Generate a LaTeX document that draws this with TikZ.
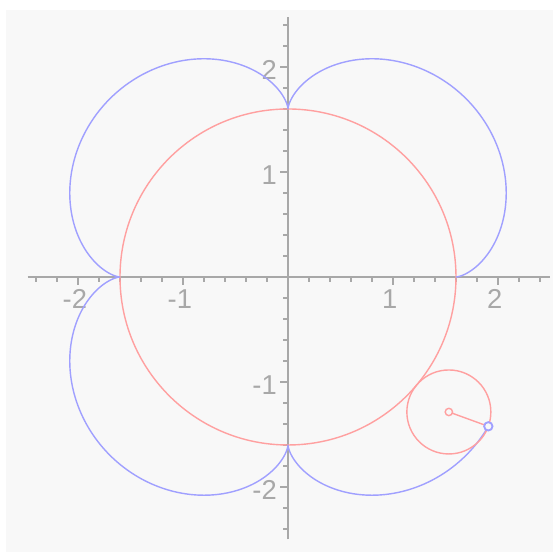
\documentclass[tikz,border=0pt]{standalone}
\usepackage{fontspec}
\setsansfont{Liberation Sans}
\definecolor{curvec}{HTML}{A0A0FF}
\definecolor{circc}{HTML}{FFA0A0}
\definecolor{axisc}{HTML}{A8A8A8}
\definecolor{bgc}{HTML}{F8F8F8}

\begin{document}
\begin{tikzpicture}[font=\sffamily\fontsize{7.4}{8}\selectfont,
      axis/.style={draw=axisc, line width=0.55pt},
      minortick/.style={draw=axisc, line width=0.4pt},
      lab/.style={text=axisc, inner sep=0pt},
      roll/.style={draw=circc, line width=0.38pt},
      trace/.style={draw=curvec, line width=0.38pt}]
    \useasboundingbox (-2.743,-2.619) rectangle (2.524,2.638);
    \fill[bgc] (-2.686,-2.619) rectangle (2.524,2.543);
    % axes
    \draw[axis] (-2.48,0) -- (2.5,0);
    \draw[axis] (0,-2.5) -- (0,2.48);
    \foreach \t in {-2.4,-2.2,...,2.45} {
      \draw[minortick] (\t,0) -- (\t,-0.045);
      \draw[minortick] (0,\t) -- (-0.045,\t);
    }
    \foreach \v in {-2,-1,1,2} {
      \draw[minortick] (\v,0) -- (\v,-0.075);
      \draw[minortick] (0,\v) -- (-0.075,\v);
      \node[lab] (xl\v) at (\v-0.03,-0.21) {\v};
      \node[lab, anchor=east] (yl\v) at (-0.1,\v-0.03) {\v};
    }
    % fixed circle and traced part of the epicycloid
    \draw[roll] (0,0) circle (1.6);
    \draw[trace] plot[domain=0:320, samples=321, smooth, variable=\a]
      ({2*cos(\a)-0.4*cos(5*\a)},{2*sin(\a)-0.4*sin(5*\a)});
    % rolling circle
    \coordinate (cen) at (-40:2);
    \coordinate (pen) at ({2*cos(-40)-0.4*cos(-200)},{2*sin(-40)-0.4*sin(-200)});
    \draw[roll] (cen) circle (0.4);
    \draw[roll] (cen) -- (pen);
    \draw[roll, fill=bgc] (cen) circle (0.035);
    \draw[trace, line width=0.5pt, fill=bgc] (pen) circle (0.04);
\end{tikzpicture}
\end{document}
